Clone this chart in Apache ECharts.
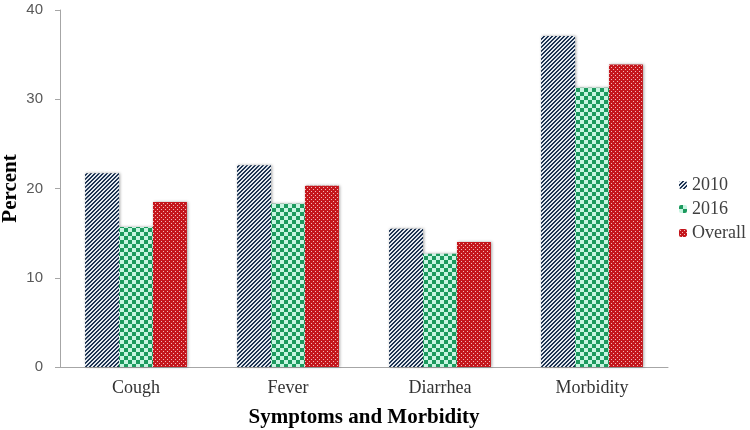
<!DOCTYPE html>
<html><head><meta charset="utf-8">
<script src="https://cdn.jsdelivr.net/npm/echarts@6/dist/echarts.min.js"></script>
<style>html,body{margin:0;padding:0;background:#fff}#c{width:750px;height:430px}</style>
</head><body><div id="c"></div>
<script>
const categories = ['Cough', 'Fever', 'Diarrhea', 'Morbidity'];
const values2010 = [21.7, 22.6, 15.5, 37.1];
const values2016 = [15.7, 18.3, 12.7, 31.3];
const valuesOverall = [18.5, 20.3, 14.0, 33.9];
const seriesNames = ['2010', '2016', 'Overall'];

function stripe() {
  const c = document.createElement('canvas'); c.width = 4; c.height = 4;
  const g = c.getContext('2d');
  g.fillStyle = '#e4eaf0'; g.fillRect(0, 0, 4, 4);
  g.fillStyle = '#1d3352';
  for (let i = 0; i < 4; i++) { g.fillRect(i, 3 - i, 1, 1); g.fillRect((i + 1) % 4, 3 - i, 1, 1); }
  return c;
}
function checker() {
  const c = document.createElement('canvas'); c.width = 8; c.height = 8;
  const g = c.getContext('2d');
  g.fillStyle = '#c8f5e2'; g.fillRect(0, 0, 8, 8);
  g.fillStyle = '#1c9a5e'; g.fillRect(0, 0, 4, 4); g.fillRect(4, 4, 4, 4);
  return c;
}
function dots() {
  const c = document.createElement('canvas'); c.width = 4; c.height = 4;
  const g = c.getContext('2d');
  g.fillStyle = '#c4161c'; g.fillRect(0, 0, 4, 4);
  g.fillStyle = '#f2b8b8'; g.fillRect(1, 1, 1, 1); g.fillRect(3, 3, 1, 1);
  return c;
}
const fills = [stripe(), checker(), dots()];
const data = [values2010, values2016, valuesOverall];

const chart = echarts.init(document.getElementById('c'));
const serif = '"Liberation Serif", "Times New Roman", serif';
const sans = '"Liberation Sans", Arial, sans-serif';
chart.setOption({
  animation: false,
  grid: { left: 60, right: 82, top: 10, bottom: 63, containLabel: false, outerBoundsMode: 'none' },
  legend: {
    orient: 'vertical', left: 674, top: 171, itemGap: 6,
    itemWidth: 8, itemHeight: 8,
    textStyle: { fontFamily: serif, fontSize: 18, lineHeight: 18, color: '#404040' },
    data: seriesNames
  },
  xAxis: {
    type: 'category', data: categories,
    axisLine: { lineStyle: { color: '#a6a6a6' } },
    axisTick: { show: false },
    axisLabel: { fontFamily: serif, fontSize: 18, color: '#333', margin: 12 },
    name: 'Symptoms and Morbidity', nameLocation: 'middle', nameGap: 40,
    nameMoveOverlap: false,
    nameTextStyle: { fontFamily: serif, fontSize: 21, fontWeight: 'bold', color: '#000' }
  },
  yAxis: {
    type: 'value', min: 0, max: 40, interval: 10,
    axisLine: { show: true, lineStyle: { color: '#a6a6a6' } },
    axisTick: { show: true, length: 5, lineStyle: { color: '#a6a6a6' } },
    splitLine: { show: false },
    axisLabel: { fontFamily: sans, fontSize: 15, color: '#595959', margin: 17 },
    name: 'Percent', nameLocation: 'middle', nameGap: 39,
    nameMoveOverlap: false,
    nameTextStyle: { fontFamily: serif, fontSize: 21, fontWeight: 'bold', color: '#000' }
  },
  series: seriesNames.map((n, i) => ({
    name: n, type: 'bar', data: data[i],
    barGap: '0%', barCategoryGap: '33%',
    itemStyle: {
      color: { image: fills[i], repeat: 'repeat' },
      shadowColor: 'rgba(0,0,0,0.35)', shadowBlur: 3, shadowOffsetX: 1
    }
  }))
});
</script></body></html>
